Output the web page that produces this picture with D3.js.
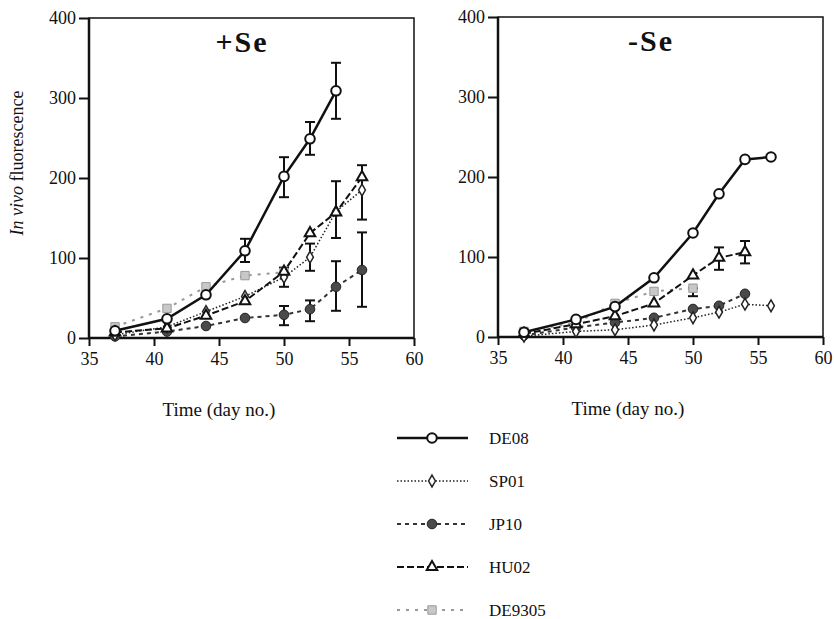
<html>
<head>
  <meta charset="utf-8" />
<script src="https://d3js.org/d3.v7.min.js"></script>
</head>
<style>
  body { margin: 0; background: #fff; }
  svg text { font-family: "Liberation Serif", "DejaVu Serif", serif; }
</style>
<body>
<svg class="main" width="834" height="619"></svg>
<script>

const days = [37, 41, 44, 47, 50, 52, 54, 56]
const xTicks = [35, 40, 45, 50, 55, 60]
const yTicks = [0, 100, 200, 300, 400]
const strains = ["DE08", "SP01", "JP10", "HU02", "DE9305"]

// +Se panel
const plusDE08   = [9, 24, 54, 109, 202, 249, 309, null]
const plusSP01   = [4, 14, 33, 52, 76, 101, 158, 185]
const plusJP10   = [2, 8, 15, 25, 29, 36, 64, 85]
const plusHU02   = [7, 12, 28, 46, 83, 131, 157, 201]
const plusDE9305 = [14, 37, 64, 78, 82, null, null, null]
// error bars: [strain, day, low, high]
const plusErr = [
  ["DE08", 47, 95, 124], ["DE08", 50, 176, 226], ["DE08", 52, 229, 270], ["DE08", 54, 274, 344],
  ["SP01", 50, 64, 88], ["SP01", 52, 84, 118],
  ["HU02", 54, 125, 196], ["HU02", 56, 148, 216],
  ["JP10", 50, 16, 40], ["JP10", 52, 21, 47], ["JP10", 54, 34, 96], ["JP10", 56, 39, 132]
]

// -Se panel
const minusDE08   = [6, 22, 38, 74, 130, 179, 222, 225]
const minusSP01   = [1, 7, 9, 15, 24, 31, 41, 39]
const minusJP10   = [2, 12, 18, 24, 35, 39, 54, null]
const minusHU02   = [4, 16, 26, 42, 77, 99, 106, null]
const minusDE9305 = [7, 18, 42, 57, 61, null, null, null]
const minusErr = [
  ["HU02", 52, 84, 112], ["HU02", 54, 92, 120], ["DE9305", 50, 51, 61]
]

const serif = "Liberation Serif, DejaVu Serif, serif"

const styles = {
  DE08:   { color: "#111", width: 2.5, dash: null },
  SP01:   { color: "#222", width: 1.5, dash: "1.5,2" },
  JP10:   { color: "#333", width: 2, dash: "4,4" },
  HU02:   { color: "#111", width: 2, dash: "7,3" },
  DE9305: { color: "#999", width: 2, dash: "3,6" }
}

function marker(sel, name) {
  if (name === "DE08") {
    sel.append("circle").attr("r", 4.8).attr("fill", "#fff").attr("stroke", "#111").attr("stroke-width", 2)
  } else if (name === "SP01") {
    sel.append("path").attr("d", d3.symbol(d3.symbolDiamond, 40)).attr("fill", "#fff").attr("stroke", "#222").attr("stroke-width", 1.5)
  } else if (name === "JP10") {
    sel.append("circle").attr("r", 4.8).attr("fill", "#4a4a4a").attr("stroke", "#222").attr("stroke-width", 1)
  } else if (name === "HU02") {
    sel.append("path").attr("d", d3.symbol(d3.symbolTriangle, 48)).attr("fill", "#fff").attr("stroke", "#111").attr("stroke-width", 2)
  } else {
    sel.append("path").attr("d", d3.symbol(d3.symbolSquare, 70)).attr("fill", "#c8c8c8").attr("stroke", "#999").attr("stroke-width", 1)
  }
}

const svg = d3.select("svg")

function panel(x0, y0, title, series, errs) {
  const x = d3.scaleLinear().domain([35, 60]).range([x0, x0 + 325])
  const y = d3.scaleLinear().domain([0, 400]).range([y0, y0 - 320])
  const g = svg.append("g")

  g.append("g").attr("transform", `translate(0,${y0})`)
    .call(d3.axisBottom(x).tickValues(xTicks).tickSize(8).tickPadding(6))
    .attr("font-family", serif)
    .call(a => a.select(".domain").remove())
    .call(a => a.selectAll("line").attr("stroke", "#111").attr("stroke-width", 2))
    .call(a => a.selectAll("text").attr("font-size", 18).attr("fill", "#111"))
  g.append("g").attr("transform", `translate(${x0},0)`)
    .call(d3.axisLeft(y).tickValues(yTicks).tickSize(10).tickPadding(3))
    .attr("font-family", serif)
    .call(a => a.select(".domain").remove())
    .call(a => a.selectAll("line").attr("stroke", "#111").attr("stroke-width", 2))
    .call(a => a.selectAll("text").attr("font-size", 18).attr("fill", "#111"))

  // frame
  g.append("rect").attr("x", x(35)).attr("y", y(400)).attr("width", x(60) - x(35)).attr("height", y(0) - y(400))
    .attr("fill", "none").attr("stroke", "#111").attr("stroke-width", 1.5)
  g.append("line").attr("x1", x(35)).attr("x2", x(60)).attr("y1", y(0)).attr("y2", y(0)).attr("stroke", "#111").attr("stroke-width", 2.5)
  g.append("line").attr("x1", x(35)).attr("x2", x(35)).attr("y1", y(0)).attr("y2", y(400)).attr("stroke", "#111").attr("stroke-width", 2.5)

  g.append("text").attr("x", x0 + 153).attr("y", y(400) + 34).attr("text-anchor", "middle")
    .attr("font-family", serif).attr("font-size", 30).attr("font-weight", "bold").attr("letter-spacing", 2)
    .attr("fill", "#111").text(title)

  g.append("text").attr("x", x(45)).attr("y", y0 + 78).attr("text-anchor", "middle")
    .attr("font-family", serif).attr("font-size", 19).attr("fill", "#111").text("Time (day no.)")

  // error bars
  errs.forEach(e => {
    const eb = g.append("g").attr("stroke", "#111").attr("stroke-width", 2)
    eb.append("line").attr("x1", x(e[1])).attr("x2", x(e[1])).attr("y1", y(e[2])).attr("y2", y(e[3]))
    eb.append("line").attr("x1", x(e[1]) - 5).attr("x2", x(e[1]) + 5).attr("y1", y(e[2])).attr("y2", y(e[2]))
    eb.append("line").attr("x1", x(e[1]) - 5).attr("x2", x(e[1]) + 5).attr("y1", y(e[3])).attr("y2", y(e[3]))
  })

  const line = d3.line().defined(d => d[1] !== null).x(d => x(d[0])).y(d => y(d[1]))
  const order = ["DE9305", "JP10", "SP01", "HU02", "DE08"]
  order.forEach(name => {
    const pts = days.map((d, i) => [d, series[name][i]])
    const s = styles[name]
    g.append("path").datum(pts).attr("d", line).attr("fill", "none")
      .attr("stroke", s.color).attr("stroke-width", s.width).attr("stroke-dasharray", s.dash)
    pts.filter(p => p[1] !== null).forEach(p => {
      marker(g.append("g").attr("transform", `translate(${x(p[0])},${y(p[1])})`), name)
    })
  })
}

panel(89, 338, "+Se",
  { DE08: plusDE08, SP01: plusSP01, JP10: plusJP10, HU02: plusHU02, DE9305: plusDE9305 }, plusErr)
panel(498, 337, "-Se",
  { DE08: minusDE08, SP01: minusSP01, JP10: minusJP10, HU02: minusHU02, DE9305: minusDE9305 }, minusErr)

// y axis title
const yt = svg.append("text").attr("transform", "translate(23,163) rotate(-90)").attr("text-anchor", "middle")
  .attr("font-family", serif).attr("font-size", 18).attr("fill", "#111")
yt.append("tspan").attr("font-style", "italic").text("In vivo")
yt.append("tspan").text(" fluorescence")

// legend
strains.forEach((name, i) => {
  const ly = 438 + i * 43
  const s = styles[name]
  svg.append("line").attr("x1", 397).attr("x2", 468).attr("y1", ly).attr("y2", ly)
    .attr("stroke", s.color).attr("stroke-width", s.width).attr("stroke-dasharray", s.dash)
  marker(svg.append("g").attr("transform", `translate(432,${ly})`), name)
  svg.append("text").attr("x", 489).attr("y", ly).attr("dy", "0.35em")
    .attr("font-family", serif).attr("font-size", 17).attr("fill", "#111").text(name)
})

</script>
</body>
</html>
